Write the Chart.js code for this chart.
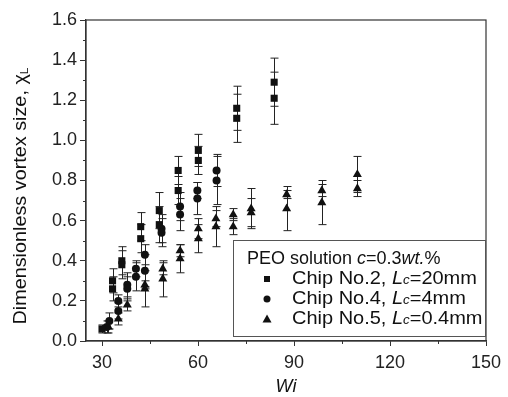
<!DOCTYPE html>
<html>
<head>
<meta charset="utf-8">
<script src="https://cdn.jsdelivr.net/npm/chart.js@4.4.1/dist/chart.umd.min.js"></script>
<style>
	html, body { margin: 0; padding: 0; background: #fff; }
	#chart { display: block; }
</style>
</head>
<body>
<canvas id="chart" width="508" height="397"></canvas>
<script>
// Chip No.2, Lc = 20 mm (squares)
const wi2 = [30, 33.3, 33.3, 36.2, 36.2, 42.1, 42.1, 47.9, 47.9, 53.8, 53.8, 60.1, 60.1, 72.1, 72.1, 83.8, 83.8];
const chi2 = [0.06, 0.30, 0.26, 0.40, 0.38, 0.57, 0.51, 0.65, 0.58, 0.85, 0.75, 0.95, 0.90, 1.16, 1.11, 1.29, 1.21];
const err2 = [0.02, 0.06, 0.06, 0.07, 0.07, 0.07, 0.07, 0.09, 0.09, 0.07, 0.07, 0.08, 0.07, 0.11, 0.12, 0.12, 0.13];

// Chip No.4, Lc = 4 mm (circles)
const wi4 = [31.5, 32.3, 35.1, 35.1, 37.9, 37.9, 40.6, 40.6, 43.4, 43.4, 48.6, 48.6, 54.4, 54.4, 59.8, 59.8, 65.8, 65.8];
const chi4 = [0.07, 0.10, 0.20, 0.15, 0.28, 0.26, 0.36, 0.32, 0.43, 0.35, 0.56, 0.54, 0.67, 0.63, 0.75, 0.71, 0.85, 0.80];
const err4 = [0.03, 0.04, 0.03, 0.04, 0.06, 0.06, 0.04, 0.07, 0.05, 0.08, 0.07, 0.07, 0.07, 0.08, 0.04, 0.08, 0.08, 0.12];

// Chip No.5, Lc = 0.4 mm (triangles)
const wi5 = [32, 35.1, 37.9, 43.4, 43.4, 49, 49, 54.4, 54.4, 60.1, 60.1, 65.6, 65.6, 71, 71, 76.6, 76.6, 87.7, 87.7, 98.7, 98.7, 109.8, 109.8];
const chi5 = [0.07, 0.11, 0.18, 0.28, 0.26, 0.36, 0.31, 0.45, 0.41, 0.56, 0.51, 0.61, 0.57, 0.63, 0.57, 0.66, 0.64, 0.73, 0.66, 0.75, 0.69, 0.83, 0.76];
const err5 = [0.03, 0.03, 0.03, 0.02, 0.09, 0.03, 0.09, 0.03, 0.07, 0.05, 0.07, 0.04, 0.10, 0.03, 0.04, 0.10, 0.07, 0.02, 0.11, 0.03, 0.11, 0.09, 0.04];

const seriesNames = ["Chip No.2, ", "Chip No.4, ", "Chip No.5, "];
const seriesLc = ["=20mm", "=4mm", "=0.4mm"];
const xTickValues = [30, 60, 90, 120, 150];
const xMinorValues = [45, 75, 105, 135];
const yTickValues = [0, 0.2, 0.4, 0.6, 0.8, 1.0, 1.2, 1.4, 1.6];
const yMinorValues = [0.1, 0.3, 0.5, 0.7, 0.9, 1.1, 1.3, 1.5];

const FONT = "'Liberation Sans', Arial, Helvetica, sans-serif";
const INK = "#111";
const AXIS = "#333";

Chart.defaults.font.family = FONT;
Chart.defaults.color = "#222";

const errs = [err2, err4, err5];
const xs = [wi2, wi4, wi5];
const ys = [chi2, chi4, chi5];

function toPoints(xv, yv) {
	return xv.map((x, i) => ({ x: x, y: yv[i] }));
}

// vertical error bars under the markers
const errorBars = {
	id: "errorBars"
	, beforeDatasetsDraw(chart) {
		const ctx = chart.ctx;
		const sx = chart.scales.x, sy = chart.scales.y;
		ctx.save();
		ctx.strokeStyle = "#222";
		ctx.lineWidth = 1;
		for (let d = 0; d < 3; d++) {
			xs[d].forEach((x, i) => {
				const px = Math.round(sx.getPixelForValue(x)) + 0.5;
				const top = sy.getPixelForValue(ys[d][i] + errs[d][i]);
				const bot = sy.getPixelForValue(ys[d][i] - errs[d][i]);
				ctx.beginPath();
				ctx.moveTo(px, top); ctx.lineTo(px, bot);
				ctx.moveTo(px - 4, top); ctx.lineTo(px + 4, top);
				ctx.moveTo(px - 4, bot); ctx.lineTo(px + 4, bot);
				ctx.stroke();
			});
		}
		ctx.restore();
	}
};

function drawMarker(ctx, kind, x, y) {
	ctx.beginPath();
	if (kind === 0) {
		ctx.rect(x - 3, y - 3, 6, 6);
	} else if (kind === 1) {
		ctx.arc(x, y, 3.5, 0, Math.PI * 2);
	} else {
		ctx.moveTo(x, y - 4.5);
		ctx.lineTo(x + 4.5, y + 3.5);
		ctx.lineTo(x - 4.5, y + 3.5);
		ctx.closePath();
	}
	ctx.fill();
}

// text runs: [text, italic, size, dy], stretched horizontally by sx
function drawRuns(ctx, runs, x, y, sx = 1) {
	ctx.save();
	ctx.translate(x, y);
	ctx.scale(sx, 1);
	let cx = 0;
	runs.forEach(r => {
		ctx.font = (r[1] ? "italic " : "") + r[2] + "px " + FONT;
		ctx.fillText(r[0], cx, r[3] || 0);
		cx += ctx.measureText(r[0]).width;
	});
	ctx.restore();
}

const frameAndText = {
	id: "frameAndText"
	, afterDraw(chart) {
		const ctx = chart.ctx;
		const a = chart.chartArea;
		const sx = chart.scales.x, sy = chart.scales.y;
		ctx.save();

		// box around plot
		ctx.strokeStyle = AXIS;
		ctx.lineWidth = 1.2;
		ctx.strokeRect(a.left, a.top, a.right - a.left, a.bottom - a.top);

		// minor ticks
		ctx.lineWidth = 1;
		ctx.beginPath();
		xMinorValues.forEach(v => {
			const px = Math.round(sx.getPixelForValue(v)) + 0.5;
			ctx.moveTo(px, a.bottom); ctx.lineTo(px, a.bottom + 3);
		});
		yMinorValues.forEach(v => {
			const py = Math.round(sy.getPixelForValue(v)) + 0.5;
			ctx.moveTo(a.left, py); ctx.lineTo(a.left - 3, py);
		});
		ctx.stroke();

		// legend
		const lx = 233, ly = 240, lw = 252, lh = 96;
		ctx.fillStyle = "#fff";
		ctx.fillRect(lx, ly, lw, lh);
		ctx.strokeStyle = "#555";
		ctx.strokeRect(lx + 0.5, ly + 0.5, lw, lh);
		ctx.fillStyle = "#111";
		ctx.textBaseline = "middle";
		drawRuns(ctx, [["PEO solution ", false, 18], ["c", true, 18], ["=0.3", false, 18], ["wt.", true, 18], ["%", false, 18]], 247, 259);
		const rowY = [279, 299, 319];
		for (let d = 0; d < 3; d++) {
			ctx.fillStyle = INK;
			drawMarker(ctx, d, 267, rowY[d]);
			ctx.fillStyle = "#111";
			drawRuns(ctx, [[seriesNames[d], false, 18], ["L", true, 18], ["c", true, 12, 2], [seriesLc[d], false, 18]], 292, rowY[d], 1.11);
		}

		// axis titles
		ctx.textAlign = "center";
		ctx.font = "italic 18px " + FONT;
		ctx.fillText("Wi", (a.left + a.right) / 2, 387);

		ctx.translate(21, 196);
		ctx.rotate(-Math.PI / 2);
		ctx.scale(1.1, 1);
		ctx.textAlign = "left";
		ctx.font = "18px " + FONT;
		const main = "Dimensionless vortex size, \u03c7";
		const w1 = ctx.measureText(main).width;
		ctx.font = "11px " + FONT;
		const w2 = ctx.measureText("L").width;
		let x0 = -(w1 + w2) / 2;
		ctx.font = "18px " + FONT;
		ctx.fillText(main, x0, 0);
		ctx.font = "11px " + FONT;
		ctx.fillText("L", x0 + w1, 4);
		ctx.restore();
	}
};

new Chart(document.getElementById("chart"), {
	type: "scatter"
	, data: {
		datasets: [
			{ label: seriesNames[0], data: toPoints(wi2, chi2), pointStyle: "rect", pointRadius: 5 }
			, { label: seriesNames[1], data: toPoints(wi4, chi4), pointStyle: "circle", pointRadius: 4 }
			, { label: seriesNames[2], data: toPoints(wi5, chi5), pointStyle: "triangle", pointRadius: 5.2 }
		].map(ds => Object.assign(ds, {
			backgroundColor: INK
			, borderColor: INK
			, borderWidth: 0
			, pointHoverRadius: ds.pointRadius
		}))
	}
	, options: {
		responsive: false
		, animation: false
		, layout: { padding: { top: 20, right: 22, left: 0, bottom: 0 } }
		, plugins: {
			legend: { display: false }
			, tooltip: { enabled: false }
		}
		, scales: {
			x: {
				type: "linear"
				, min: 25
				, max: 150
				, afterBuildTicks: s => { s.ticks = xTickValues.map(v => ({ value: v })); }
				, afterFit: s => { s.height = 56; }
				, grid: { drawOnChartArea: false, tickLength: 5, tickColor: AXIS, tickWidth: 1 }
				, border: { display: true, color: AXIS, width: 1.2 }
				, ticks: { padding: 6, color: "#222", font: { size: 18 }, maxRotation: 0 }
			}
			, y: {
				type: "linear"
				, min: 0
				, max: 1.6
				, afterBuildTicks: s => { s.ticks = yTickValues.map(v => ({ value: v })); }
				, afterFit: s => { s.width = 86; }
				, grid: { drawOnChartArea: false, tickLength: 6, tickColor: AXIS, tickWidth: 1 }
				, border: { display: true, color: AXIS, width: 1.2 }
				, ticks: { padding: 3, color: "#222", font: { size: 18 }, callback: v => v.toFixed(1) }
			}
		}
	}
	, plugins: [errorBars, frameAndText]
});
</script>
</body>
</html>
